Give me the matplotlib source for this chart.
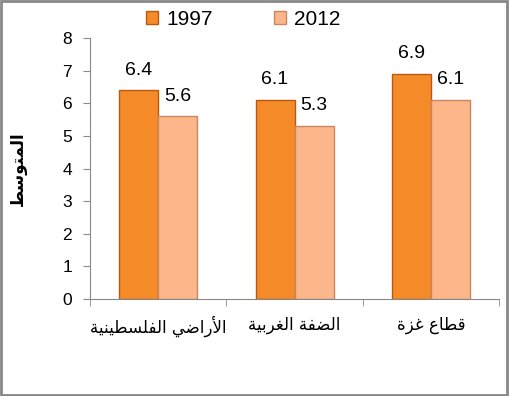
import matplotlib
matplotlib.use('Agg')
import matplotlib.pyplot as plt
from matplotlib.patches import Rectangle, Patch
import numpy as np

# data
categories = ['الأراضي الفلسطينية', 'الضفة الغربية', 'قطاع غزة']
years = ['1997', '2012']
vals_1997 = [6.4, 6.1, 6.9]
vals_2012 = [5.6, 5.3, 6.1]
y_label = 'المتوسط'
y_ticks = [0, 1, 2, 3, 4, 5, 6, 7, 8]

# minimal arabic shaping (matplotlib has no complex text layout)
DUAL = {
    'ب': (0xFE8F, 0xFE90, 0xFE91, 0xFE92), 'ت': (0xFE95, 0xFE96, 0xFE97, 0xFE98),
    'ي': (0xFEF1, 0xFEF2, 0xFEF3, 0xFEF4), 'ن': (0xFEE5, 0xFEE6, 0xFEE7, 0xFEE8),
    'ل': (0xFEDD, 0xFEDE, 0xFEDF, 0xFEE0), 'م': (0xFEE1, 0xFEE2, 0xFEE3, 0xFEE4),
    'ف': (0xFED1, 0xFED2, 0xFED3, 0xFED4), 'ق': (0xFED5, 0xFED6, 0xFED7, 0xFED8),
    'س': (0xFEB1, 0xFEB2, 0xFEB3, 0xFEB4), 'ض': (0xFEBD, 0xFEBE, 0xFEBF, 0xFEC0),
    'ط': (0xFEC1, 0xFEC2, 0xFEC3, 0xFEC4), 'ع': (0xFEC9, 0xFECA, 0xFECB, 0xFECC),
    'غ': (0xFECD, 0xFECE, 0xFECF, 0xFED0),
}
RIGHT = {
    'ا': (0xFE8D, 0xFE8E), 'أ': (0xFE83, 0xFE84), 'ر': (0xFEAD, 0xFEAE),
    'ز': (0xFEAF, 0xFEB0), 'و': (0xFEED, 0xFEEE), 'ة': (0xFE93, 0xFE94),
    'لأ': (0xFEF7, 0xFEF8), 'لا': (0xFEFB, 0xFEFC),
}


def shape(s):
    units = []
    i = 0
    while i < len(s):
        if s[i] == 'ل' and i + 1 < len(s) and s[i + 1] in 'اأ':
            units.append(s[i:i + 2])
            i += 2
        else:
            units.append(s[i])
            i += 1
    out = []
    for k, u in enumerate(units):
        prev = units[k - 1] if k > 0 else None
        nxt = units[k + 1] if k + 1 < len(units) else None
        join_prev = prev in DUAL and (u in DUAL or u in RIGHT)
        if u in DUAL:
            join_next = nxt in DUAL or nxt in RIGHT
            f = DUAL[u]
            if join_prev and join_next:
                out.append(chr(f[3]))
            elif join_prev:
                out.append(chr(f[1]))
            elif join_next:
                out.append(chr(f[2]))
            else:
                out.append(chr(f[0]))
        elif u in RIGHT:
            f = RIGHT[u]
            out.append(chr(f[1] if join_prev else f[0]))
        else:
            out.append(u)
    return ''.join(out)[::-1]


plt.rcParams['font.family'] = ['Liberation Sans', 'DejaVu Sans']

fig = plt.figure(figsize=(5.09, 3.96), dpi=100)
ax = fig.add_axes([0.1768, 0.2449, 0.8036, 0.6591])

x = np.arange(len(categories))
w = 0.286
c1, e1 = '#F58A28', '#B85A12'
c2, e2 = '#FBB68A', '#C98761'
b1 = ax.bar(x - w / 2, vals_1997, w, color=c1, edgecolor=e1, linewidth=1.0)
b2 = ax.bar(x + w / 2, vals_2012, w, color=c2, edgecolor=e2, linewidth=1.0)

for bars, vals in [(b1, vals_1997), (b2, vals_2012)]:
    for b, v in zip(bars, vals):
        ax.annotate(f'{v:.1f}', (b.get_x() + b.get_width() / 2, v),
                    xytext=(0, 14.5), textcoords='offset points',
                    ha='center', va='center', fontsize=14)

ax.set_xlim(-0.5, 2.5)
ax.set_ylim(0, 8)
ax.set_yticks(y_ticks)
ax.tick_params(axis='y', length=5, color='#888888', labelsize=12.5, pad=8)
ax.set_xticks(x)
ax.set_xticklabels([shape(c) for c in categories], family=['DejaVu Sans'], fontsize=12)
ax.tick_params(axis='x', length=0, pad=12)
ax.set_xticks(np.arange(len(categories) + 1) - 0.5, minor=True)
ax.tick_params(axis='x', which='minor', length=5, color='#888888')

for side in ['top', 'right']:
    ax.spines[side].set_visible(False)
for side in ['left', 'bottom']:
    ax.spines[side].set_color('#888888')

fig.text(0.036, 0.575, shape(y_label), rotation=90, ha='center', va='center',
         fontsize=12, fontweight='bold', family=['DejaVu Sans'])

handles = [Patch(facecolor=c1, edgecolor=e1), Patch(facecolor=c2, edgecolor=e2)]
fig.legend(handles, years, loc='center', bbox_to_anchor=(0.478, 0.952), ncol=2,
           frameon=False, fontsize=15, handlelength=0.6, handleheight=0.6,
           handletextpad=0.4, columnspacing=2.9)

fig.patches.append(Rectangle((0.002, 0.003), 0.995, 0.994, transform=fig.transFigure,
                             fill=False, edgecolor='#888888', linewidth=2))

fig.savefig('out.png', dpi=100)
